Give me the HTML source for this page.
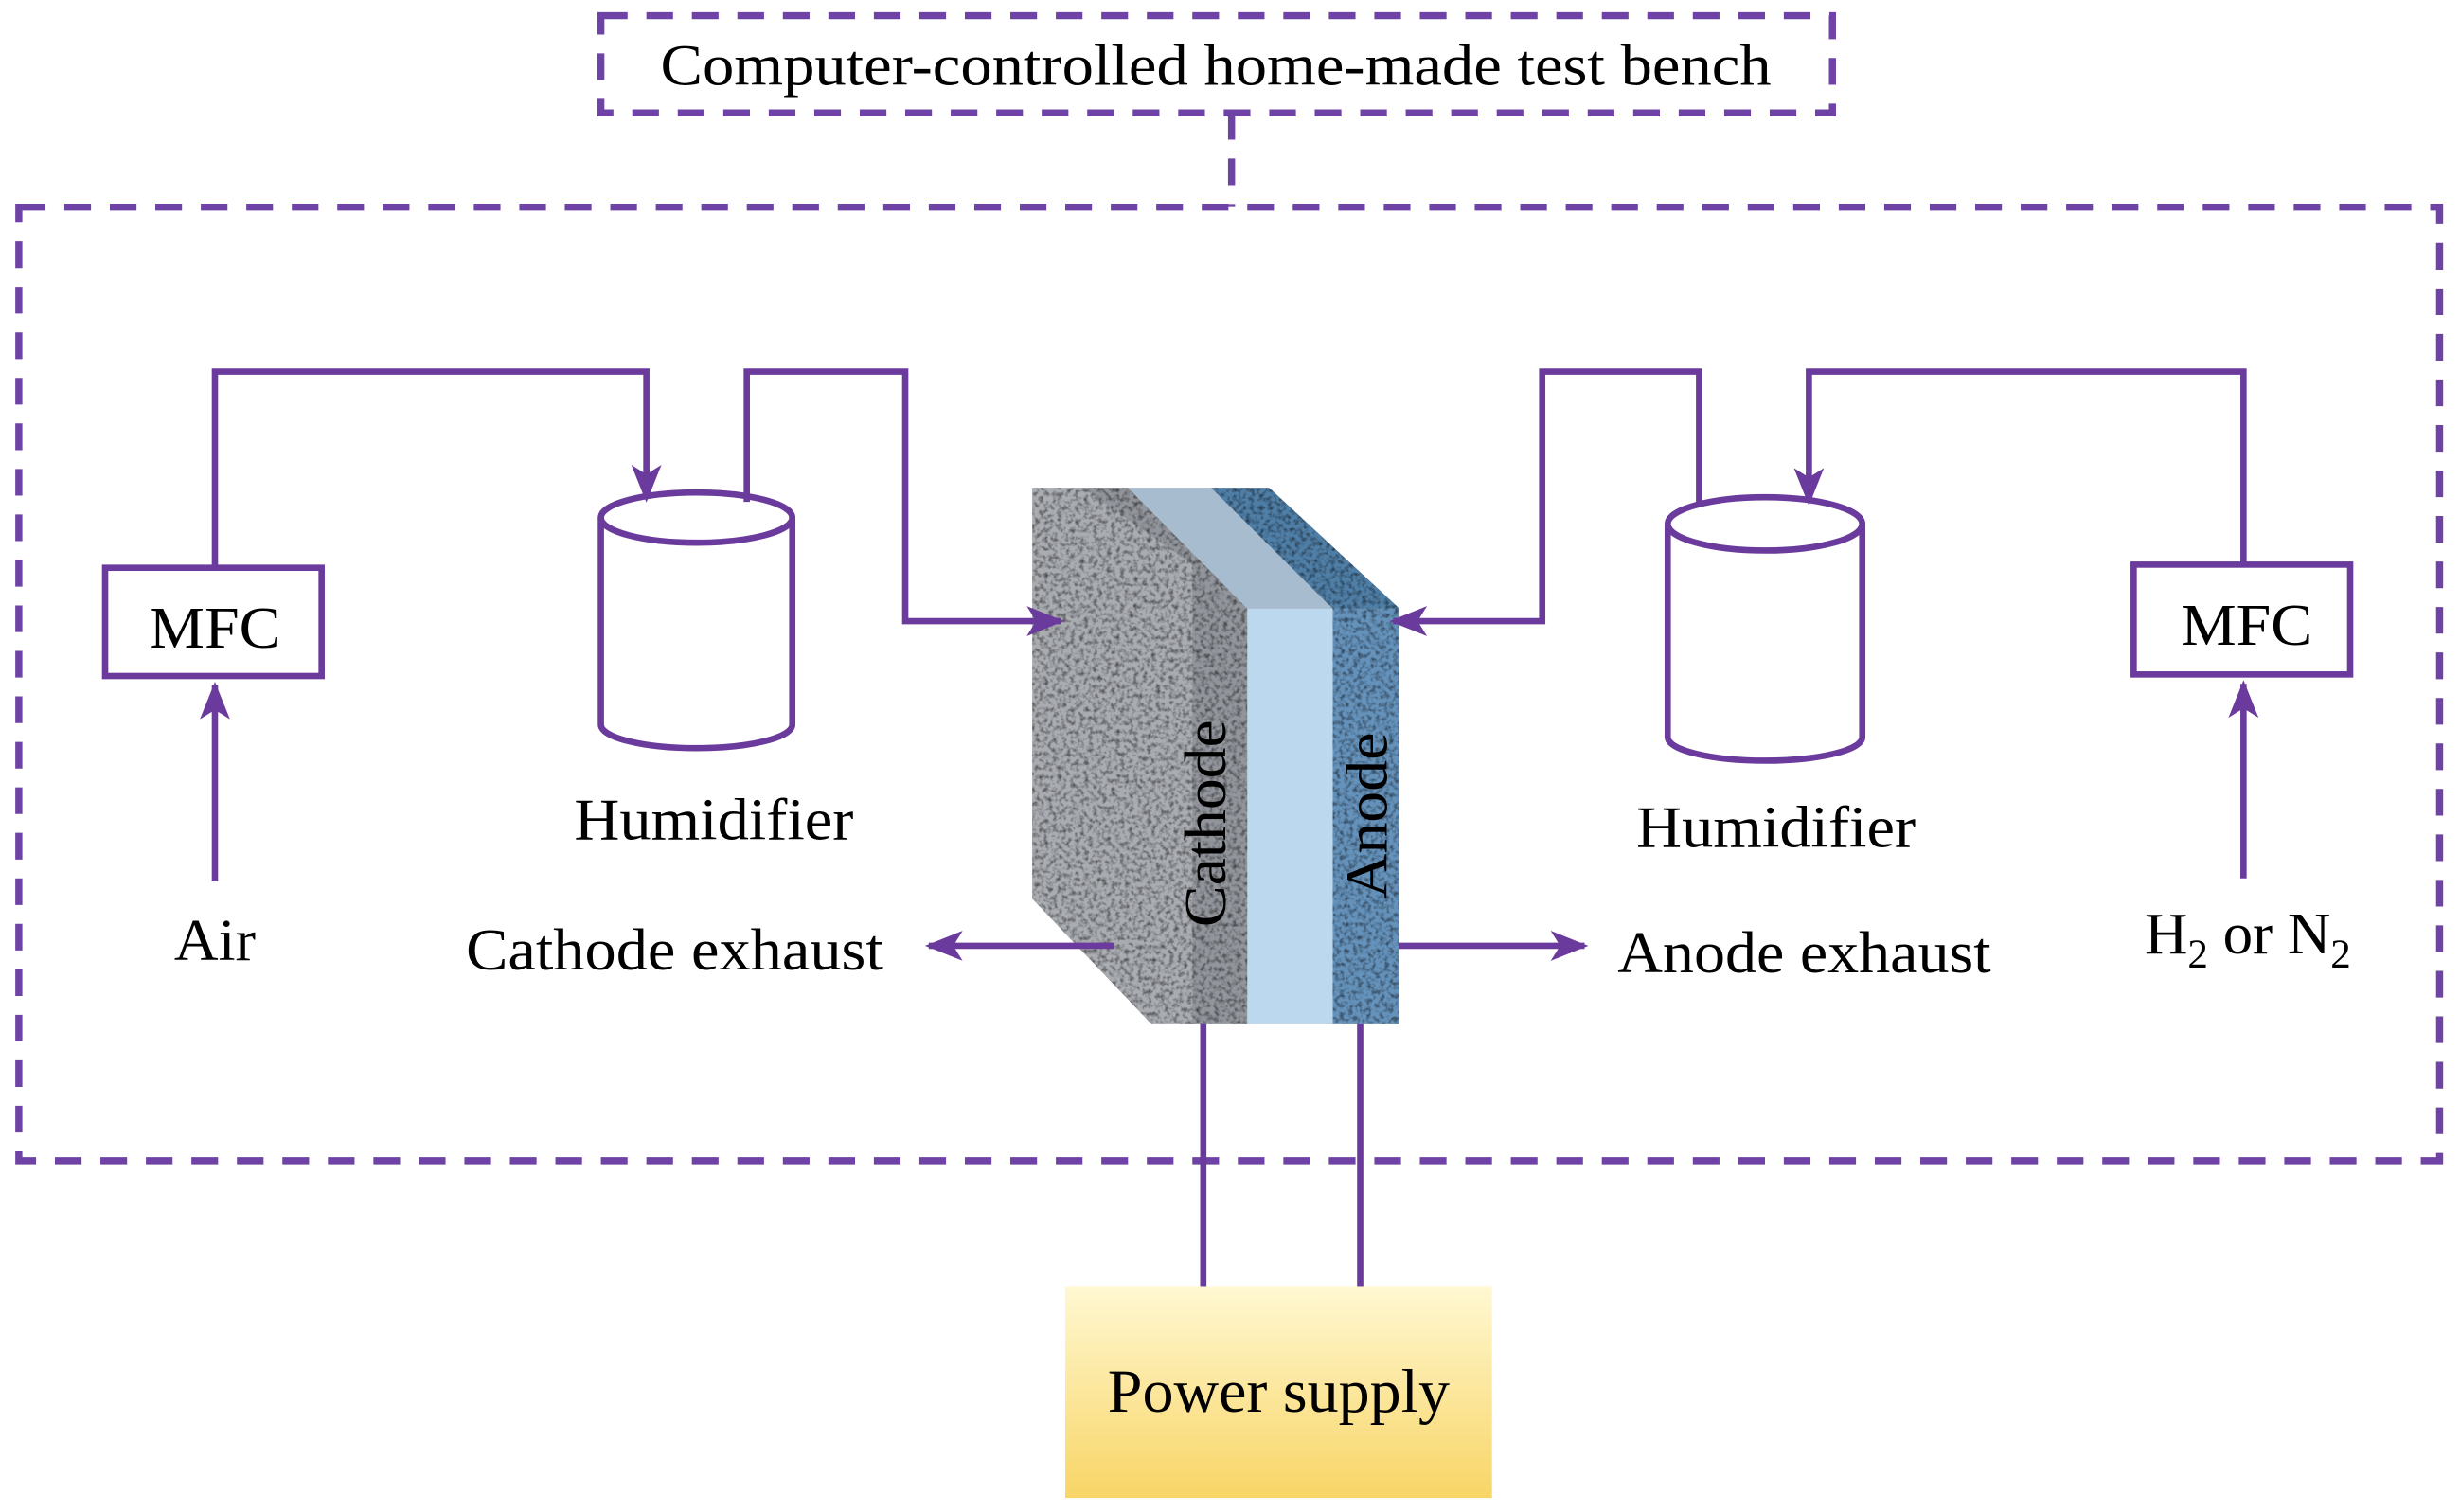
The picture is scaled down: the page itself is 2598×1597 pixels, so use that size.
<!DOCTYPE html>
<html><head><meta charset="utf-8"><style>
html,body{margin:0;padding:0;background:#fff;}
svg{display:block;}
text{font-family:"Liberation Serif","Times New Roman",serif;fill:#000;}
</style></head><body>
<svg width="2598" height="1597" viewBox="0 0 1568 964" preserveAspectRatio="none" xmlns="http://www.w3.org/2000/svg">
<defs>
<marker id="ah" viewBox="0 0 20 16" refX="18" refY="8" markerWidth="6" markerHeight="5" orient="auto" markerUnits="strokeWidth">
<path d="M0,0 L20,8 L0,16 L5,8 Z" fill="#6a3b9c"/>
</marker>
<filter id="noise" x="0" y="0" width="100%" height="100%">
<feTurbulence type="fractalNoise" baseFrequency="0.35" numOctaves="2" seed="3" result="t"/>
<feColorMatrix type="matrix" values="0 0 0 0 0  0 0 0 0 0  0 0 0 0 0  0 0 0 -2.2 1.25" in="t" result="a"/>
<feComposite in="a" in2="SourceGraphic" operator="in"/>
</filter>
<linearGradient id="ps" x1="0" y1="0" x2="0" y2="1">
<stop offset="0" stop-color="#fff8d2"/><stop offset="1" stop-color="#f8d566"/>
</linearGradient>
</defs>

<g fill="none" stroke="#6f42a5" stroke-width="4.5" stroke-dasharray="17 12">
<rect x="383" y="10" width="785" height="62"/>
<line x1="785" y1="72" x2="785" y2="132"/>
<rect x="12" y="132" width="1543" height="608"/>
</g>
<text x="775" y="54" font-size="37" text-anchor="middle" textLength="708" lengthAdjust="spacingAndGlyphs">Computer-controlled home-made test bench</text>

<!-- fuel cell -->
<polygon points="658,311 809,311 892,388 892,653 734,653 658,573" fill="#9a9ca3"/>
<polygon points="658,311 719,311 795,388 795,653 734,653 658,573" fill="#a9acb1"/>
<polygon points="690,311 719,311 795,388 795,653 760,653 760,360" fill="#7c8088" opacity="0.5"/>
<polygon points="719,311 772,311 849.5,388 795,388" fill="#a8bccf"/>
<polygon points="772,311 809,311 892,388 849.5,388" fill="#4f7ea6"/>
<rect x="795" y="388" width="54.5" height="265" fill="#bcd8ee"/>
<rect x="849.5" y="388" width="42.5" height="265" fill="#6592bb"/>
<polygon points="658,311 719,311 795,388 795,653 734,653 658,573" fill="#2e3138" filter="url(#noise)" opacity="0.55"/>
<polygon points="772,311 809,311 892,388 892,653 849.5,653 849.5,388" fill="#1d3a5a" filter="url(#noise)" opacity="0.55"/>
<text transform="translate(781,525) rotate(-90)" font-size="38" text-anchor="middle" textLength="132" lengthAdjust="spacingAndGlyphs">Cathode</text>
<text transform="translate(884,520) rotate(-90)" font-size="38" text-anchor="middle" textLength="106" lengthAdjust="spacingAndGlyphs">Anode</text>

<g fill="none" stroke="#6a3b9c" stroke-width="4">
<rect x="67" y="362" width="138" height="69" fill="#fff"/>
<line x1="137" y1="562" x2="137" y2="437" marker-end="url(#ah)"/>
<polyline points="137,362 137,237 412,237 412,318" marker-end="url(#ah)"/>
<path d="M383,330 L383,462 A61,15 0 0 0 505,462 L505,330"/>
<ellipse cx="444" cy="330" rx="61" ry="16"/>
<polyline points="476,320 476,237 577,237 577,396 676,396" marker-end="url(#ah)"/>
<rect x="1360" y="360" width="138" height="70" fill="#fff"/>
<line x1="1430" y1="560" x2="1430" y2="436" marker-end="url(#ah)"/>
<polyline points="1430,360 1430,237 1153,237 1153,320" marker-end="url(#ah)"/>
<path d="M1063,334 L1063,470 A62,15 0 0 0 1187,470 L1187,334"/>
<ellipse cx="1125" cy="334" rx="62" ry="17"/>
<polyline points="1083,323 1083,237 983,237 983,396 888,396" marker-end="url(#ah)"/>
<line x1="710" y1="603" x2="592" y2="603" marker-end="url(#ah)"/>
<line x1="892" y1="603" x2="1010" y2="603" marker-end="url(#ah)"/>
<line x1="767" y1="653" x2="767" y2="820"/>
<line x1="867" y1="653" x2="867" y2="820"/>
</g>

<rect x="679" y="820" width="272" height="135" fill="url(#ps)"/>
<text x="815" y="900" font-size="39" text-anchor="middle" textLength="218" lengthAdjust="spacingAndGlyphs">Power supply</text>

<text x="137" y="413" font-size="38" text-anchor="middle" textLength="84" lengthAdjust="spacingAndGlyphs">MFC</text>
<text x="1432" y="411" font-size="38" text-anchor="middle" textLength="84" lengthAdjust="spacingAndGlyphs">MFC</text>
<text x="137" y="612" font-size="38" text-anchor="middle" textLength="52" lengthAdjust="spacingAndGlyphs">Air</text>
<text x="455" y="535" font-size="38" text-anchor="middle" textLength="178" lengthAdjust="spacingAndGlyphs">Humidifier</text>
<text x="1132" y="540" font-size="38" text-anchor="middle" textLength="178" lengthAdjust="spacingAndGlyphs">Humidifier</text>
<text x="430" y="618" font-size="38" text-anchor="middle" textLength="266" lengthAdjust="spacingAndGlyphs">Cathode exhaust</text>
<text x="1150" y="620" font-size="38" text-anchor="middle" textLength="238" lengthAdjust="spacingAndGlyphs">Anode exhaust</text>
<text x="1367" y="608" font-size="38">H<tspan font-size="26" dy="9">2</tspan><tspan dy="-9"> or N</tspan><tspan font-size="26" dy="9">2</tspan></text>
</svg>
</body></html>
